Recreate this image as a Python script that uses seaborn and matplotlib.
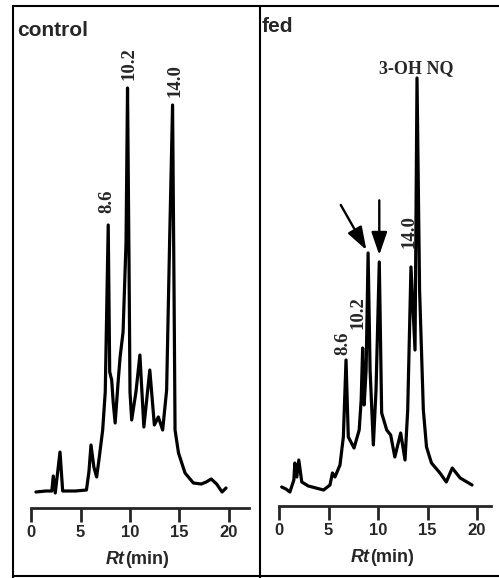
import numpy as np
import pandas as pd
import matplotlib
matplotlib.use("Agg")
import matplotlib.pyplot as plt
from matplotlib.lines import Line2D
import seaborn as sns

# HPLC traces: retention time (min) and detector response (arbitrary units)
control_rt = [0.5, 1.5, 2.1, 2.25, 2.45, 2.93, 3.2, 4.5, 5.6, 5.85, 6.06, 6.35, 6.63,
              6.9, 7.24, 7.5, 7.8, 7.95, 8.15, 8.3, 8.5, 8.8, 9.0, 9.3, 9.6, 9.75,
              9.9, 10.0, 10.17, 10.6, 11.0, 11.4, 12.0, 12.46, 12.86, 13.3, 13.7,
              14.0, 14.3, 14.45, 14.55, 14.9, 15.56, 16.4, 17.2, 17.7, 18.2, 18.75,
              19.3, 19.7]
control_sig = [0, 1, 1, 16, -1, 40, 1, 1, 2, 20, 47, 25, 15,
               35, 62, 100, 267, 120, 112, 90, 69, 110, 135, 160, 250, 404,
               230, 100, 72, 100, 137, 65, 122, 67, 75, 62, 102,
               250, 387, 200, 62, 39, 19, 9, 8, 10, 13, 8,
               0, 4]

fed_rt = [0.27, 0.7, 1.1, 1.5, 1.6, 1.8, 2.0, 2.3, 2.96, 4.5, 5.15, 5.4, 5.65, 6.16,
          6.5, 6.77, 7.0, 7.58, 8.1, 8.3, 8.45, 8.6, 8.8, 9.0, 9.2, 9.53, 9.8, 10.13,
          10.37, 10.88, 11.28, 11.7, 12.29, 12.73, 13.0, 13.33, 13.74, 13.94, 14.2,
          14.58, 14.9, 15.4, 16.26, 16.9, 17.5, 18.3, 19.5]
fed_sig = [3, 1, -2, 10, 27, 13, 30, 8, 4, 0, 5, 17, 13, 25,
           53, 130, 53, 42, 60, 90, 142, 85, 120, 237, 120, 45, 100, 228,
           77, 60, 55, 33, 57, 30, 80, 223, 140, 412, 200,
           80, 43, 27, 17, 8, 22, 12, 5]

# labelled peaks
control_labels = ["8.6", "10.2", "14.0"]
control_label_rt = [7.8, 9.75, 14.3]
fed_labels = ["8.6", "10.2", "14.0", "3-OH NQ"]
fed_label_rt = [6.77, 8.45, 13.33, 13.94]
fed_arrow_rt = [9.0, 10.13]

xticks = [0, 5, 10, 15, 20]

# label offsets from the peak apex (points): dx, dy, rotation
control_label_style = [(-0.7, 9, 90), (1.1, 5.5, 90), (1.4, 5.5, 90)]
fed_label_style = [(-2.2, 3.5, 90), (-3.6, 14, 90), (-1.4, 14, 90), (-0.7, 0.5, 0)]
arrow_tails = [(-19.7, 34.6, 2.5), (0, 44.4, 5)]

W, H = 499, 578
sns.set_style("ticks")
plt.rcParams["font.family"] = ["Liberation Sans", "DejaVu Sans"]

fig = plt.figure(figsize=(W / 100, H / 100), dpi=100)


def px_axes(x0, x1, y_top, y_bot):
    return fig.add_axes([x0 / W, (H - y_bot) / H, (x1 - x0) / W, (y_bot - y_top) / H])


def apex(rt, sig, t):
    rt = np.asarray(rt)
    sig = np.asarray(sig)
    return sig[np.abs(rt - t) < 0.12].max()


def draw_panel(ax, rt, sig, xmax, ylo, yhi):
    df = pd.DataFrame({"rt": rt, "sig": sig})
    sns.lineplot(data=df, x="rt", y="sig", ax=ax, color="black", lw=2.3,
                 sort=False, estimator=None)
    ax.set_xlim(0, xmax)
    ax.set_ylim(ylo, yhi)
    for s in ["left", "right", "top"]:
        ax.spines[s].set_visible(False)
    ax.spines["bottom"].set_linewidth(2)
    ax.set_yticks([])
    ax.set_xticks(xticks)
    ax.set_xticklabels([str(v) for v in xticks], fontsize=12, fontweight="bold")
    ax.tick_params(axis="x", length=10, width=2, pad=2.5, direction="out")
    ax.set_xlabel("")
    ax.set_ylabel("")
    ax.patch.set_alpha(0)
    ax.annotate("Rt", xy=(0.5, 0), xycoords="axes fraction", xytext=(-11, -37),
                textcoords="offset points", ha="right", va="center",
                fontsize=13, fontweight="bold", style="italic")
    ax.annotate("(min)", xy=(0.5, 0), xycoords="axes fraction", xytext=(-11, -37),
                textcoords="offset points", ha="left", va="center",
                fontsize=13, fontweight="bold")


ax1 = px_axes(31, 249, 10, 508)
draw_panel(ax1, control_rt, control_sig, 218 / 9.9, -16, 482)
ax2 = px_axes(279, 491, 10, 506)
draw_panel(ax2, fed_rt, fed_sig, 212 / 9.9, -16, 480)

serif = ["Liberation Serif", "DejaVu Serif"]
for ax, labels, times, styles, rt, sig in [
        (ax1, control_labels, control_label_rt, control_label_style, control_rt, control_sig),
        (ax2, fed_labels, fed_label_rt, fed_label_style, fed_rt, fed_sig)]:
    for lab, t, (dx, dy, rot) in zip(labels, times, styles):
        ax.annotate(lab, xy=(t, apex(rt, sig, t)), xytext=(dx, dy),
                    textcoords="offset points", ha="center", va="bottom",
                    rotation=rot, family=serif,
                    fontsize=13.5 if rot else 13, fontweight="bold")

for t, (dx, dy, gap) in zip(fed_arrow_rt, arrow_tails):
    ax2.annotate("", xy=(t, apex(fed_rt, fed_sig, t)), xytext=(dx, dy),
                 textcoords="offset points",
                 arrowprops=dict(arrowstyle="-|>,head_length=0.7,head_width=0.24",
                                 color="black", lw=1.7, mutation_scale=20,
                                 shrinkA=0, shrinkB=gap))

# panel names
fig.text(17 / W, 1 - 31 / H, "control", fontsize=15, fontweight="bold", va="center")
fig.text(262 / W, 1 - 27 / H, "fed", fontsize=15, fontweight="bold", va="center")

# frame lines
frame = [((13, 13), (6, 578)), ((13, 499), (6, 6)), ((260, 260), (6, 578)),
         ((13, 499), (576, 576))]
for xs, ys in frame:
    fig.add_artist(Line2D([x / W for x in xs], [1 - y / H for y in ys],
                          color="black", lw=1.5, transform=fig.transFigure))

fig.savefig("out.png", dpi=100)
